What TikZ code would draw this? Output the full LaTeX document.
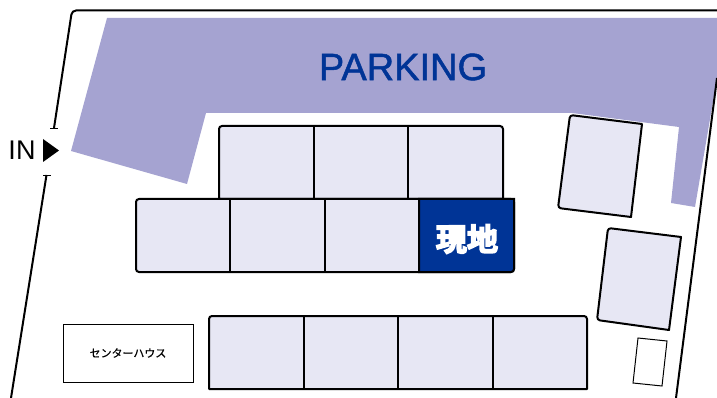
\documentclass[tikz,border=0pt]{standalone}
\usepackage{fontspec}
\setmainfont{Liberation Sans}
\newfontfamily\cjk[FakeBold=.4]{Noto Sans CJK JP}
\newfontfamily\cjkbold[FakeBold=5]{Noto Sans CJK JP Bold}
\newfontfamily\signfont[FakeBold=1.3]{Liberation Sans}
\usepackage{tikz}
\definecolor{parkingfill}{RGB}{165,163,209}
\definecolor{stallfill}{RGB}{231,231,244}
\definecolor{sitefill}{RGB}{0,52,150}
\tikzset{
   lot/.style={color=black, line width=2pt, rounded corners=4pt},
   block/.style={draw=black, fill=stallfill, line width=2pt, line join=round},
   divider/.style={draw=black, line width=2pt}
}

\begin{document}
\begin{tikzpicture}[x=1pt,y=-1pt]
   \useasboundingbox (0,0) rectangle (717,398);

   \fill[parkingfill] (107,18) -- (717,18) -- (717,78) -- (695,207) -- (671,203)
      -- (679,127) -- (572,113) -- (206,113) -- (187,184) -- (71,151) -- cycle;

   % lot outline
   \draw[lot] (717,10.5) -- (72,10.5) -- (54,128);
   \draw[lot] (46.5,175) -- (11,398);
   \draw[lot] (717,78) -- (676,398);
   \draw[line width=.9pt] (50,128) -- (58,128);
   \draw[line width=.9pt] (43,175) -- (50.5,175);

   % upper row
   \draw[block] (219,199) [rounded corners=3pt] -- (219,126) -- (503,126) [sharp corners] -- (503,199) -- cycle;
   \foreach \x in {314,408}
      \draw[divider] (\x,126) -- (\x,199);

   % middle row
   \draw[block, rounded corners=3pt] (136,199) rectangle (514,272);
   \foreach \x in {230,325}
      \draw[divider] (\x,199) -- (\x,272);
   \draw[draw=black, fill=sitefill, line width=2pt] (419,199) -- (514,199)
      [rounded corners=3pt] -- (514,272) [sharp corners] -- (419,272) -- cycle;

   % lower row
   \draw[block] (209,389) [rounded corners=3pt] -- (209,316) -- (587,316) [sharp corners] -- (587,389) -- cycle;
   \foreach \x in {304,398,493}
      \draw[divider] (\x,316) -- (\x,389);

   % right side
   \draw[block] (642,124) -- (631,217) [rounded corners=3pt] -- (558,208) -- (570,115) [sharp corners] -- cycle;
   \draw[block] (681,237) -- (669,330) [rounded corners=3pt] -- (597,320) -- (608,228) [sharp corners] -- cycle;
   \draw[line width=1pt] (638,338) -- (667,341) -- (662,386) -- (633,383) -- cycle;

   \node[draw, line width=1pt, minimum width=130pt, minimum height=58pt, inner sep=0pt,
      font=\cjk\fontsize{11}{11}\selectfont] (house) at (128,353) {センターハウス};

   \fill (43,139) -- (59,150.5) -- (43,162) -- cycle;
   \node[font=\fontsize{27}{27}\selectfont, inner sep=0pt] (entry) at (22,150) {IN};
   \node[font=\signfont\fontsize{38}{38}\selectfont, text=sitefill, inner sep=0pt] (parking) at (403,67) {PARKING};
   \node[font=\cjkbold\fontsize{31}{31}\selectfont, text=white, inner sep=0pt] (site) at (467,239) {現地};
\end{tikzpicture}
\end{document}
